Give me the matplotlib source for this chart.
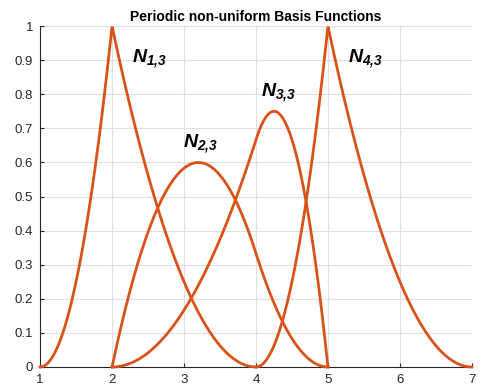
import numpy as np
import matplotlib
matplotlib.use("Agg")
import matplotlib.pyplot as plt

# Knot vector of the periodic non-uniform quadratic (order 3) basis
knots = [1, 2, 2, 4, 5, 5, 7]
order = 3
labels = ["N_{1{,}3}", "N_{2{,}3}", "N_{3{,}3}", "N_{4{,}3}"]
label_pos = [(2.28, 0.905), (2.98, 0.655), (4.07, 0.805), (5.28, 0.905)]
x_ticks = [1, 2, 3, 4, 5, 6, 7]
y_ticks = [0, 0.1, 0.2, 0.3, 0.4, 0.5, 0.6, 0.7, 0.8, 0.9, 1]


def basis(i, k, t, x):
    """Cox-de Boor recursion for N_{i,k} (0-based i)."""
    if k == 1:
        return np.where((x >= t[i]) & (x < t[i + 1]), 1.0, 0.0)
    out = np.zeros_like(x)
    d1 = t[i + k - 1] - t[i]
    d2 = t[i + k] - t[i + 1]
    if d1 > 0:
        out += (x - t[i]) / d1 * basis(i, k - 1, t, x)
    if d2 > 0:
        out += (t[i + k] - x) / d2 * basis(i + 1, k - 1, t, x)
    return out


plt.rcParams["font.family"] = ["Liberation Sans", "DejaVu Sans"]
plt.rcParams["mathtext.fontset"] = "custom"
plt.rcParams["mathtext.it"] = "Liberation Sans:italic:bold"
plt.rcParams["mathtext.rm"] = "Liberation Sans:italic:bold"
plt.rcParams["mathtext.bf"] = "Liberation Sans:italic:bold"

fig = plt.figure(figsize=(4.83, 3.90), dpi=100)
ax = fig.add_axes([0.083, 0.059, 0.894, 0.874])

color = "#D95319"
n_funcs = len(knots) - order
for i in range(n_funcs):
    lo, hi = knots[i], knots[i + order]
    x = np.linspace(lo, hi, 600)
    x_eval = x.copy()
    x_eval[-1] = hi - 1e-9
    y = basis(i, order, knots, x_eval)
    ax.plot(x, y, color=color, lw=2.0, solid_joinstyle="miter", zorder=3, clip_on=False)

for lab, (lx, ly) in zip(labels, label_pos):
    ax.text(lx, ly, "$" + lab + "$", fontsize=14, color="black", ha="left", va="center")

ax.set_xlim(1, 7)
ax.set_ylim(0, 1)
ax.set_xticks(x_ticks)
ax.set_yticks(y_ticks)
ax.set_yticklabels([f"{v:g}" for v in y_ticks])
ax.tick_params(labelsize=9.5, colors="#262626", length=3, direction="in", pad=5)
ax.grid(True, color="#DFDFDF", lw=0.8)
ax.set_axisbelow(True)
for s in ["top", "right"]:
    ax.spines[s].set_visible(False)
for s in ["left", "bottom"]:
    ax.spines[s].set_color("#262626")
    ax.spines[s].set_linewidth(0.8)

ax.set_title("Periodic non-uniform Basis Functions", fontsize=10, fontweight="bold",
             color="black", pad=4)

fig.savefig("out.png", dpi=100)
